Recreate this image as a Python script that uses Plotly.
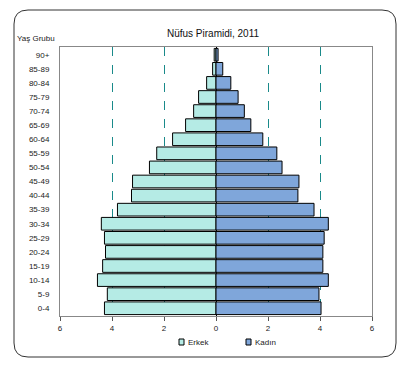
import plotly.graph_objects as go

age_groups = ["0-4", "5-9", "10-14", "15-19", "20-24", "25-29", "30-34", "35-39",
              "40-44", "45-49", "50-54", "55-59", "60-64", "65-69", "70-74",
              "75-79", "80-84", "85-89", "90+"]
erkek = [4.29, 4.18, 4.56, 4.36, 4.25, 4.29, 4.41, 3.79, 3.25, 3.21, 2.56, 2.28,
         1.67, 1.17, 0.86, 0.67, 0.36, 0.13, 0.07]
kadin = [4.04, 3.96, 4.32, 4.11, 4.11, 4.16, 4.32, 3.77, 3.15, 3.19, 2.54, 2.34,
         1.80, 1.34, 1.09, 0.85, 0.57, 0.26, 0.08]
x_ticks = [-6, -4, -2, 0, 2, 4, 6]
x_ticktext = ["6", "4", "2", "0", "2", "4", "6"]
series_names = ["Erkek", "Kadın"]
series_colors = ["#b5ebe5", "#7fa6da"]

fig = go.Figure()
fig.add_trace(go.Bar(y=age_groups, x=[-v for v in erkek], orientation="h", name=series_names[0],
                     marker=dict(color=series_colors[0], line=dict(color="black", width=1))))
fig.add_trace(go.Bar(y=age_groups, x=kadin, orientation="h", name=series_names[1],
                     marker=dict(color=series_colors[1], line=dict(color="black", width=1))))

OFF = 8  # default page body margin
PAGE_W, PAGE_H = 407, 369
W, H = PAGE_W - OFF, PAGE_H - OFF
# plot area in page pixels
PL, PR, PT, PB = 60, 372, 47, 316
L, R, T, B = PL - OFF, W - (PR - OFF), PT - OFF, H - (PB - OFF)
pw, ph = W - L - R, H - T - B

def px2paper(xp, yp):
    return (xp - PL) / pw, (PB - yp) / ph

x0, y0 = px2paper(14, 10)
x1, y1 = px2paper(396, 357)
rx, ry = 14 / pw, 14 / ph
path = (f"M {x0+rx},{y0} L {x1-rx},{y0} Q {x1},{y0} {x1},{y0-ry} "
        f"L {x1},{y1+ry} Q {x1},{y1} {x1-rx},{y1} L {x0+rx},{y1} "
        f"Q {x0},{y1} {x0},{y1+ry} L {x0},{y0-ry} Q {x0},{y0} {x0+rx},{y0} Z")

shapes = [dict(type="path", path=path, xref="paper", yref="paper",
               line=dict(color="#333", width=1), layer="below")]
annotations = [dict(text="Yaş Grubu", x=px2paper(36, 0)[0], y=px2paper(0, 38)[1],
                    xref="paper", yref="paper", showarrow=False,
                    xanchor="center", yanchor="middle",
                    font=dict(size=8, color="#222"))]
# legend boxes + labels
for name, col, bx in zip(series_names, series_colors, [179, 246]):
    ax0, ay0 = px2paper(bx, 339)
    ax1, ay1 = px2paper(bx + 5, 345)
    shapes.append(dict(type="rect", xref="paper", yref="paper", x0=ax0, x1=ax1,
                       y0=ay1, y1=ay0, fillcolor=col, line=dict(color="black", width=1)))
    tx, ty = px2paper(bx + 7, 342)
    annotations.append(dict(text=name, x=tx, y=ty, xref="paper", yref="paper",
                            xanchor="left", yanchor="middle", showarrow=False,
                            font=dict(size=8, color="#222")))

fig.update_layout(
    width=W, height=H,
    margin=dict(l=L, r=R, t=T, b=B, autoexpand=False),
    paper_bgcolor="white", plot_bgcolor="white",
    barmode="relative", bargap=0.1,
    font=dict(family="Liberation Sans, Arial, sans-serif", size=8, color="#222"),
    title=dict(text="Nüfus Piramidi, 2011", x=(213 - OFF) / W, xanchor="center",
               y=1 - (33 - OFF) / H, yanchor="middle", font=dict(size=10, color="#111")),
    showlegend=False,
    shapes=shapes,
    annotations=annotations,
)
fig.update_xaxes(range=[-6, 6], tickvals=x_ticks, ticktext=x_ticktext,
                 showgrid=True, gridcolor="#1a8a8a", griddash="dash", gridwidth=1,
                 zeroline=True, zerolinecolor="black", zerolinewidth=1,
                 showline=True, linecolor="#888", mirror=True,
                 ticks="outside", ticklen=4, tickcolor="#555",
                 tickfont=dict(size=8, color="#222"), fixedrange=True)
fig.update_yaxes(showgrid=False, showline=True, linecolor="#888", mirror=True,
                 ticks="", ticklabelstandoff=8, tickfont=dict(size=8, color="#222"),
                 range=[-0.55, 18.55])

fig.write_html("out.html")
